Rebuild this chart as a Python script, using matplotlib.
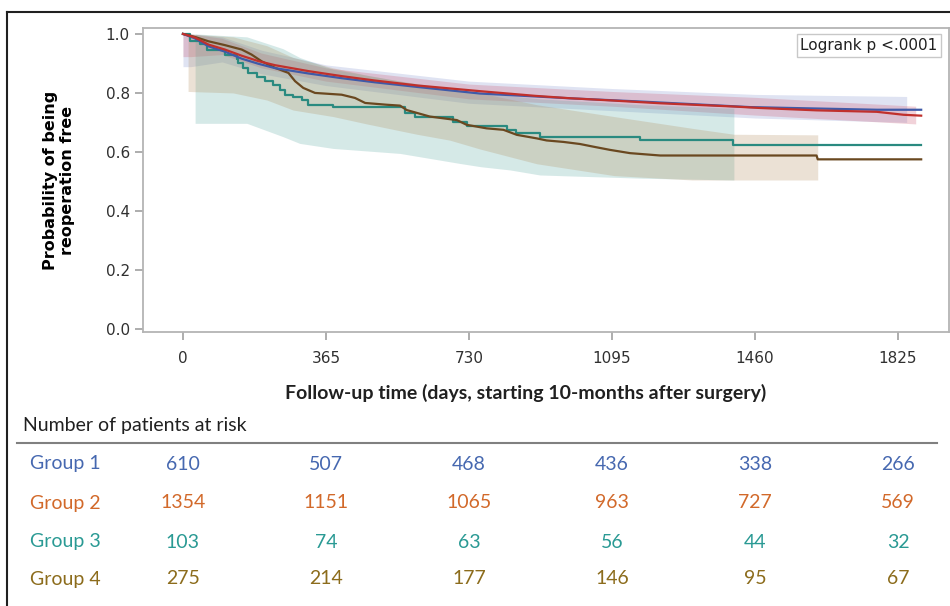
import matplotlib
matplotlib.use("Agg")
import matplotlib.pyplot as plt
from matplotlib.lines import Line2D
from matplotlib.transforms import blended_transform_factory

# Kaplan-Meier estimates (days, survival)
g1_t = [0, 30, 65, 107, 150, 192, 235, 320, 405, 490, 600, 758, 900, 1000, 1166, 1300, 1447, 1588, 1771, 1884]
g1_s = [1.0, 0.985, 0.958, 0.94, 0.916, 0.899, 0.884, 0.866, 0.85, 0.836, 0.82, 0.798, 0.788, 0.781, 0.771, 0.762, 0.752, 0.748, 0.743, 0.743]

g2_t = [0, 30, 65, 107, 150, 192, 235, 320, 405, 490, 600, 758, 900, 988, 1100, 1218, 1405, 1473, 1617, 1771, 1839, 1884]
g2_s = [1.0, 0.988, 0.964, 0.947, 0.926, 0.908, 0.894, 0.874, 0.857, 0.842, 0.825, 0.806, 0.79, 0.782, 0.774, 0.765, 0.754, 0.749, 0.741, 0.736, 0.726, 0.723]

g3_t = [0, 18, 43, 61, 107, 137, 141, 154, 167, 188, 209, 230, 248, 260, 282, 303, 320, 384, 567, 592, 690, 724, 826, 850, 911, 1166, 1405, 1884]
g3_s = [1.0, 0.975, 0.965, 0.945, 0.93, 0.916, 0.902, 0.885, 0.868, 0.853, 0.84, 0.826, 0.811, 0.794, 0.785, 0.777, 0.76, 0.751, 0.731, 0.717, 0.703, 0.688, 0.675, 0.665, 0.652, 0.641, 0.625, 0.625]

g4_t = [0, 30, 65, 107, 150, 175, 201, 235, 269, 286, 307, 337, 405, 439, 465, 520, 554, 571, 630, 699, 724, 775, 818, 852, 903, 928, 971, 1013, 1047, 1090, 1141, 1218, 1617, 1620, 1884]
g4_s = [1.0, 0.99, 0.975, 0.962, 0.947, 0.93, 0.907, 0.885, 0.868, 0.84, 0.817, 0.80, 0.794, 0.783, 0.766, 0.76, 0.757, 0.742, 0.72, 0.708, 0.692, 0.68, 0.675, 0.658, 0.646, 0.639, 0.634, 0.627, 0.618, 0.607, 0.596, 0.588, 0.588, 0.575, 0.575]

# Confidence bands (days, lower, upper)
b1_t = [0, 20, 100, 200, 365, 730, 1095, 1460, 1847]
b1_lo = [0.889, 0.889, 0.905, 0.865, 0.825, 0.765, 0.74, 0.715, 0.70]
b1_hi = [1.0, 1.0, 0.99, 0.945, 0.895, 0.84, 0.815, 0.795, 0.788]

b2_t = [0, 20, 100, 200, 365, 730, 1095, 1460, 1870]
b2_lo = [0.923, 0.923, 0.93, 0.885, 0.84, 0.78, 0.755, 0.725, 0.695]
b2_hi = [1.0, 1.0, 0.985, 0.935, 0.885, 0.83, 0.805, 0.785, 0.755]

b3_t = [31, 163, 255, 298, 383, 554, 707, 760, 835, 911, 1174, 1406]
b3_lo = [0.697, 0.697, 0.652, 0.629, 0.612, 0.595, 0.561, 0.55, 0.539, 0.522, 0.511, 0.505]
b3_hi = [1.0, 0.99, 0.95, 0.92, 0.88, 0.84, 0.81, 0.80, 0.79, 0.78, 0.76, 0.748]

b4_t = [13, 128, 214, 281, 383, 469, 597, 681, 758, 903, 1100, 1300, 1406, 1620]
b4_lo = [0.805, 0.80, 0.776, 0.742, 0.72, 0.695, 0.66, 0.64, 0.61, 0.56, 0.52, 0.505, 0.505, 0.505]
b4_hi = [1.0, 0.99, 0.96, 0.92, 0.885, 0.86, 0.83, 0.81, 0.80, 0.76, 0.72, 0.68, 0.66, 0.658]

# Number at risk table
groups = ["Group 1", "Group 2", "Group 3", "Group 4"]
risk_days = [0, 365, 730, 1095, 1460, 1825]
at_risk = [
    [610, 507, 468, 436, 338, 266],
    [1354, 1151, 1065, 963, 727, 569],
    [103, 74, 63, 56, 44, 32],
    [275, 214, 177, 146, 95, 67],
]

line_colors = ["#3f5aa8", "#c0302c", "#2a8a80", "#6a4820"]
band_colors = ["#7080c8", "#d06078", "#5aa8a2", "#b08a5a"]
table_colors = ["#4668b0", "#d2692a", "#2a9a94", "#8c6c1c"]

fig = plt.figure(figsize=(9.5, 6.06), dpi=100)
ax = fig.add_axes([143 / 950, 1 - 332 / 606, (949 - 143) / 950, (332 - 28) / 606])

bands = [(b1_t, b1_lo, b1_hi), (b2_t, b2_lo, b2_hi), (b3_t, b3_lo, b3_hi), (b4_t, b4_lo, b4_hi)]
for (bt, lo, hi), c, a in zip(bands, band_colors, [0.22, 0.28, 0.25, 0.25]):
    ax.fill_between(bt, lo, hi, color=c, alpha=a, linewidth=0)

ax.plot(g3_t, g3_s, drawstyle="steps-post", color=line_colors[2], lw=1.6)
ax.plot(g4_t, g4_s, color=line_colors[3], lw=1.6)
ax.plot(g1_t, g1_s, color=line_colors[0], lw=1.6)
ax.plot(g2_t, g2_s, color=line_colors[1], lw=1.6)

ax.set_xlim(-102, 1955)
ax.set_ylim(-0.010, 1.020)
ax.set_xticks(risk_days)
ax.set_yticks([0.0, 0.2, 0.4, 0.6, 0.8, 1.0])
ax.set_yticklabels(["0.0", "0.2", "0.4", "0.6", "0.8", "1.0"])
for s in ax.spines.values():
    s.set_color("#b4b4b4")
    s.set_linewidth(1.3)
ax.tick_params(colors="#a0a0a0", labelcolor="#303030", labelsize=11, length=6, width=1.2)
ax.tick_params(axis="x", pad=8)
ax.set_ylabel("Probability of being\nreoperation free", fontsize=11.5, fontweight="bold", labelpad=22)

ax.text(869 / 950, 1 - 45.5 / 606, "Logrank p <.0001", transform=fig.transFigure, ha="center", va="center",
        fontsize=11, color="#202020",
        bbox=dict(boxstyle="square,pad=0.25", facecolor="white", edgecolor="#c8c8c8", linewidth=1))

fig.text(526 / 950, 1 - 393 / 606, "Follow-up time (days, starting 10-months after surgery)",
         ha="center", va="center", fontsize=14, fontweight="bold", family="Lato", color="#202020")

# risk table
fig.text(23 / 950, 1 - 425 / 606, "Number of patients at risk", ha="left", va="center",
         fontsize=14, family="Lato", color="#202020")
fig.add_artist(Line2D([17 / 950, 937 / 950], [1 - 443 / 606, 1 - 443 / 606], color="#808080", lw=1.5))

trans = blended_transform_factory(ax.transData, fig.transFigure)
row_y = [464, 503, 542, 579]
for i, g in enumerate(groups):
    y = 1 - row_y[i] / 606
    fig.text(30 / 950, y, g, ha="left", va="center", fontsize=14, family="Lato", color=table_colors[i])
    for d, n in zip(risk_days, at_risk[i]):
        ax.text(d, y, str(n), transform=trans, ha="center", va="center", fontsize=14,
                family="Lato", color=table_colors[i], clip_on=False)

# outer frame
fig.add_artist(Line2D([7 / 950, 1.0], [1 - 12 / 606, 1 - 12 / 606], color="#202020", lw=1.5))
fig.add_artist(Line2D([7 / 950, 7 / 950], [0, 1 - 12 / 606], color="#202020", lw=1.5))

fig.savefig("out.png", dpi=100)
